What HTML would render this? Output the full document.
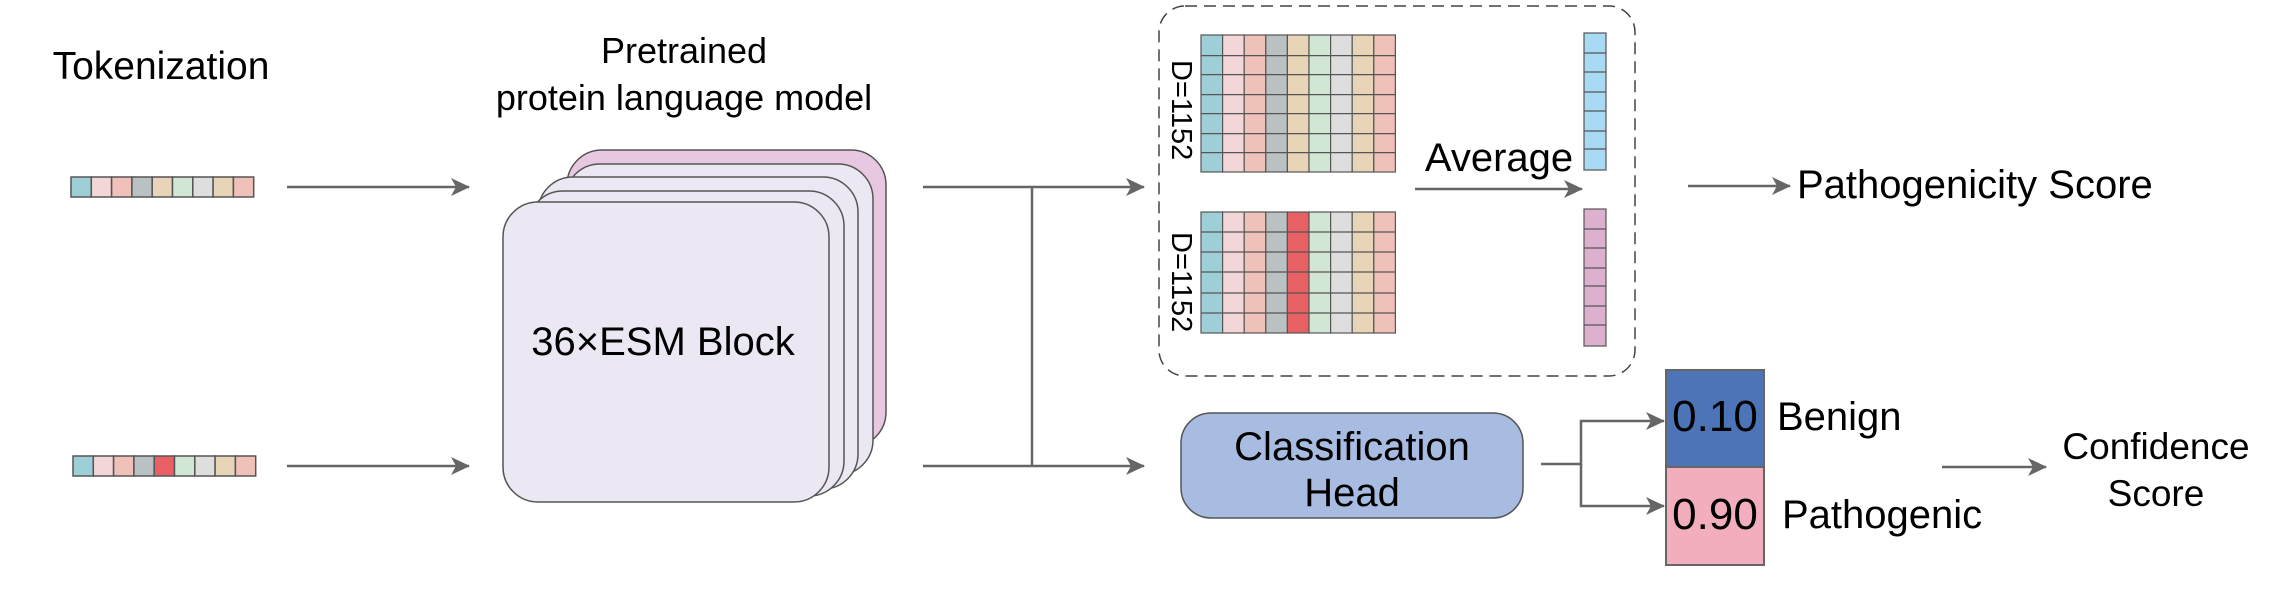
<!DOCTYPE html>
<html><head><meta charset="utf-8"><style>
html,body{margin:0;padding:0;background:#fff;}
svg{display:block;}
text{font-family:"Liberation Sans",Arial,sans-serif;fill:#000;}
</style></head><body>
<svg width="2279" height="596" viewBox="0 0 2279 596" xmlns="http://www.w3.org/2000/svg">
<defs>
<marker id="ah" viewBox="0 0 20 20" refX="18" refY="10" markerWidth="20" markerHeight="20" markerUnits="userSpaceOnUse" orient="auto">
<path d="M0,1 L19,10 L0,19 L5,10 Z" fill="#666"/>
</marker>
</defs>

<text x="161" y="79" font-size="39" text-anchor="middle">Tokenization</text>
<text x="684" y="63" font-size="36" text-anchor="middle">Pretrained</text>
<text x="684" y="110" font-size="36" text-anchor="middle">protein language model</text>

<g stroke="#555" stroke-width="1.5">
<rect x="71" y="177" width="20.3" height="20" fill="#9ecfd6"/>
<rect x="91.3" y="177" width="20.3" height="20" fill="#f3d6d8"/>
<rect x="111.6" y="177" width="20.3" height="20" fill="#efc1b9"/>
<rect x="131.9" y="177" width="20.3" height="20" fill="#b9c1c3"/>
<rect x="152.2" y="177" width="20.3" height="20" fill="#e8d5b7"/>
<rect x="172.5" y="177" width="20.3" height="20" fill="#d2e6d4"/>
<rect x="192.8" y="177" width="20.3" height="20" fill="#dedede"/>
<rect x="213.1" y="177" width="20.3" height="20" fill="#e8d5b7"/>
<rect x="233.4" y="177" width="20.3" height="20" fill="#efc1b9"/>

<rect x="73" y="456" width="20.3" height="20" fill="#9ecfd6"/>
<rect x="93.3" y="456" width="20.3" height="20" fill="#f3d6d8"/>
<rect x="113.6" y="456" width="20.3" height="20" fill="#efc1b9"/>
<rect x="133.9" y="456" width="20.3" height="20" fill="#b9c1c3"/>
<rect x="154.2" y="456" width="20.3" height="20" fill="#e96064"/>
<rect x="174.5" y="456" width="20.3" height="20" fill="#d2e6d4"/>
<rect x="194.8" y="456" width="20.3" height="20" fill="#dedede"/>
<rect x="215.1" y="456" width="20.3" height="20" fill="#e8d5b7"/>
<rect x="235.4" y="456" width="20.3" height="20" fill="#efc1b9"/>
</g>

<g stroke="#666" stroke-width="2.5" fill="none">
<line x1="287" y1="187" x2="469" y2="187" marker-end="url(#ah)"/>
<line x1="287" y1="466" x2="469" y2="466" marker-end="url(#ah)"/>
<line x1="923" y1="187" x2="1144" y2="187" marker-end="url(#ah)"/>
<line x1="923" y1="466" x2="1144" y2="466" marker-end="url(#ah)"/>
<line x1="1032" y1="187" x2="1032" y2="466"/>
<line x1="1415" y1="189" x2="1582" y2="189" marker-end="url(#ah)"/>
<line x1="1688" y1="186" x2="1790" y2="186" marker-end="url(#ah)"/>
<polyline points="1541,464 1581,464 1581,421 1664,421" marker-end="url(#ah)"/>
<polyline points="1581,464 1581,506 1664,506" marker-end="url(#ah)"/>
<line x1="1942" y1="467" x2="2046" y2="467" marker-end="url(#ah)"/>
</g>

<g stroke="#555" stroke-width="1.5">
<rect x="567" y="150" width="319" height="297" rx="35" fill="#e8c8e0"/>
<rect x="565" y="164" width="308" height="311" rx="35" fill="#ece8f3"/>
<rect x="538" y="177" width="320" height="312" rx="35" fill="#ece8f3"/>
<rect x="528" y="191" width="316" height="305" rx="35" fill="#ece8f3"/>
<rect x="503" y="202" width="326" height="300" rx="35" fill="#ece8f3"/>
</g>
<text x="663" y="355" font-size="40" text-anchor="middle">36×ESM Block</text>

<rect x="1159" y="6" width="476" height="370" rx="26" fill="none" stroke="#444" stroke-width="1.5" stroke-dasharray="12,7"/>

<g stroke="#555" stroke-width="1.2">
<rect x="1201" y="35" width="21.6" height="137" fill="#9ecfd6"/>
<rect x="1222.6" y="35" width="21.6" height="137" fill="#f3d6d8"/>
<rect x="1244.2" y="35" width="21.6" height="137" fill="#efc1b9"/>
<rect x="1265.8" y="35" width="21.6" height="137" fill="#b9c1c3"/>
<rect x="1287.4" y="35" width="21.6" height="137" fill="#e8d5b7"/>
<rect x="1309" y="35" width="21.6" height="137" fill="#d2e6d4"/>
<rect x="1330.6" y="35" width="21.6" height="137" fill="#dedede"/>
<rect x="1352.2" y="35" width="21.6" height="137" fill="#e8d5b7"/>
<rect x="1373.8" y="35" width="21.6" height="137" fill="#efc1b9"/>
<path d="M1201,55.6H1395M1201,74.6H1395M1201,94.6H1395M1201,113.6H1395M1201,133.6H1395M1201,152.6H1395" fill="none"/>

<rect x="1201" y="212" width="21.6" height="121" fill="#9ecfd6"/>
<rect x="1222.6" y="212" width="21.6" height="121" fill="#f3d6d8"/>
<rect x="1244.2" y="212" width="21.6" height="121" fill="#efc1b9"/>
<rect x="1265.8" y="212" width="21.6" height="121" fill="#b9c1c3"/>
<rect x="1287.4" y="212" width="21.6" height="121" fill="#e96064"/>
<rect x="1309" y="212" width="21.6" height="121" fill="#d2e6d4"/>
<rect x="1330.6" y="212" width="21.6" height="121" fill="#dedede"/>
<rect x="1352.2" y="212" width="21.6" height="121" fill="#e8d5b7"/>
<rect x="1373.8" y="212" width="21.6" height="121" fill="#efc1b9"/>
<path d="M1201,232H1395M1201,252H1395M1201,272H1395M1201,293H1395M1201,313H1395" fill="none"/>

<rect x="1584" y="33" width="22" height="137" fill="#a8daf4"/>
<path d="M1584,53H1606M1584,72H1606M1584,92H1606M1584,111H1606M1584,131H1606M1584,149H1606" fill="none"/>
<rect x="1584" y="209" width="22" height="137" fill="#deb0d0"/>
<path d="M1584,229H1606M1584,248H1606M1584,268H1606M1584,286H1606M1584,306H1606M1584,325H1606" fill="none"/>
</g>
<text font-size="29" transform="translate(1172,60) rotate(90)">D=1152</text>
<text font-size="29" transform="translate(1172,232) rotate(90)">D=1152</text>
<text x="1499" y="171" font-size="40" text-anchor="middle">Average</text>
<text x="1797" y="198" font-size="40">Pathogenicity Score</text>

<rect x="1181" y="413" width="342" height="105" rx="30" fill="#a8bce2" stroke="#555" stroke-width="1.5"/>
<text x="1352" y="460" font-size="40" text-anchor="middle">Classification</text>
<text x="1352" y="506" font-size="40" text-anchor="middle">Head</text>

<rect x="1666" y="370" width="98" height="97" fill="#4e74b8" stroke="#666" stroke-width="2"/>
<rect x="1666" y="467" width="98" height="98" fill="#f2aebc" stroke="#666" stroke-width="2"/>
<text x="1715" y="431" font-size="44" text-anchor="middle">0.10</text>
<text x="1715" y="529" font-size="44" text-anchor="middle">0.90</text>
<text x="1777" y="430" font-size="40">Benign</text>
<text x="1782" y="528" font-size="40">Pathogenic</text>

<text x="2156" y="459" font-size="37" text-anchor="middle">Confidence</text>
<text x="2156" y="506" font-size="37" text-anchor="middle">Score</text>
</svg>
</body></html>
